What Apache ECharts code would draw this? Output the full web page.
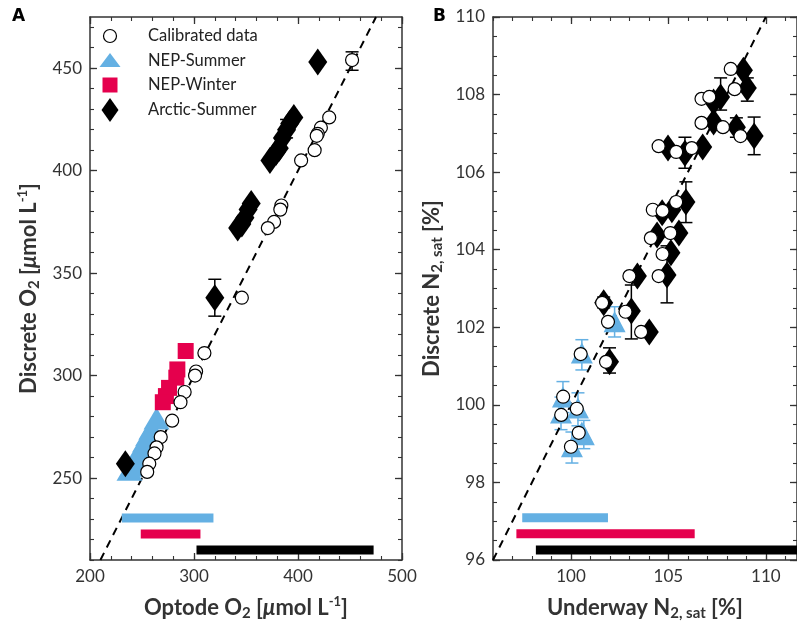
<!DOCTYPE html>
<html>
<head>
<meta charset="utf-8">
<script src="https://cdn.jsdelivr.net/npm/echarts@6/dist/echarts.min.js"></script>
<style>
  html, body { margin: 0; padding: 0; background: #fff; }
  #chart { width: 797px; height: 628px; }
</style>
</head>
<body>
<div id="chart"></div>
<script>
// ---- panel A: oxygen ----
const calA_x = [452, 430, 422, 419, 418, 416, 403, 384, 383, 377, 371, 346, 310, 302, 301, 291, 287, 279, 268, 264, 262, 257, 255]
const calA_y = [454, 426, 421, 418, 417, 410, 405, 383, 381, 375, 372, 338, 311, 302, 300, 292, 287, 278, 270, 265, 262, 257, 253]
const nepSumA_x = [238, 241, 244, 247, 250, 253, 256, 259, 264]
const nepSumA_y = [254, 256, 259, 262, 265, 268, 271, 274, 279]
const nepWinA_x = [292, 284, 283, 276, 273, 270]
const nepWinA_y = [312, 303, 299, 294, 290, 287]
const arcA_x = [419, 396, 392, 389, 385, 382, 379, 373, 355, 352, 349, 346, 342, 320, 234]
const arcA_y = [453, 426, 423, 420, 416, 411, 409, 405, 384, 381, 377, 374, 372, 338, 257]
const errA_x = [320, 389, 452]
const errA_lo = [329, 416, 449]
const errA_hi = [347, 425, 458]
// range bars [start, end, y]
const rangeA_sum = [230.6, 318.7, 230.5]
const rangeA_win = [248.8, 306.2, 222.7]
const rangeA_arc = [302.4, 472.7, 214.9]

// ---- panel B: nitrogen ----
const calB_x = [108.2, 108.4, 106.7, 107.1, 106.7, 107.8, 108.7, 104.5, 105.4, 106.2, 104.2, 104.7, 105.4, 104.1, 105.1, 104.7, 104.5, 103.0, 101.6, 101.9, 102.8, 103.6, 101.8, 100.5, 99.6, 99.5, 100.3, 100.4, 100.0]
const calB_y = [108.66, 108.14, 107.89, 107.94, 107.27, 107.16, 106.93, 106.67, 106.52, 106.62, 105.03, 105.0, 105.23, 104.30, 104.43, 103.89, 103.32, 103.32, 102.63, 102.14, 102.40, 101.88, 101.11, 101.31, 100.21, 99.74, 99.90, 99.28, 98.92]
const nepSumB_x = [102.24, 100.56, 99.59, 99.49, 100.36, 100.56, 100.66, 100.05]
const nepSumB_y = [102.14, 101.34, 100.2, 99.79, 99.92, 99.3, 99.23, 98.92]
const arcB_x = [108.85, 109.05, 107.68, 107.32, 107.32, 108.49, 109.4, 104.98, 105.85, 106.76, 105.9, 104.68, 105.18, 104.42, 105.54, 105.13, 104.93, 103.41, 101.68, 103.1, 104.02, 101.98]
const arcB_y = [108.63, 108.17, 107.94, 107.81, 107.29, 107.16, 106.93, 106.62, 106.49, 106.65, 105.23, 104.95, 105.03, 104.38, 104.43, 103.92, 103.35, 103.32, 102.63, 102.42, 101.88, 101.11]
const errB_x = [107.68, 109.05, 109.4, 105.85, 105.9, 104.93, 103.1, 101.98, 101.68, 108.49]
const errB_lo = [107.6, 107.83, 106.45, 106.1, 104.7, 102.63, 101.7, 100.82, 102.5, 106.9]
const errB_hi = [108.43, 108.43, 107.42, 106.9, 105.75, 104.1, 103.09, 101.47, 102.78, 107.4]
const errNB_x = [102.24, 100.56, 99.59, 99.49, 100.36, 100.05, 100.66]
const errNB_lo = [101.75, 100.9, 99.8, 99.36, 99.46, 98.5, 98.87]
const errNB_hi = [102.53, 101.68, 100.6, 100.2, 100.31, 99.3, 99.6]
const rangeB_sum = [97.5, 101.9, 97.09]
const rangeB_win = [97.2, 106.35, 96.68]
const rangeB_arc = [98.2, 112, 96.26]

// axis ticks
const ticksA_x = [200, 300, 400, 500]
const ticksA_y = [250, 300, 350, 400, 450]
const ticksB_x = [100, 105, 110]
const ticksB_y = [96, 98, 100, 102, 104, 106, 108, 110]

const BLUE = '#64b0e3'
const RED = '#e5004d'
const INK = '#333'
const FONT = 'Lato'

const zip = (xs, ys) => xs.map((x, i) => [x, ys[i]])
const range = (a, b, step) => {
    const out = []
    for (let v = a; v <= b + 1e-9; v += step) out.push(+v.toFixed(4))
    return out
}

const nameRich = {
    b: { fontSize: 22, fontWeight: 'bold', fontFamily: FONT, color: INK },
    sub: { fontSize: 15, fontWeight: 'bold', fontFamily: FONT, color: INK, padding: [12, 0, 0, 0] },
    sup: { fontSize: 13, fontWeight: 'bold', fontFamily: FONT, color: INK, padding: [0, 0, 12, 0] },
    mu: { fontSize: 22, fontStyle: 'italic', fontWeight: 'bold', fontFamily: FONT, color: INK },
}

// four axes per direction: main (line, major ticks, labels), minor ticks, mirrored main, mirrored minor
function axisGroup(dim, grid, min, max, majors, minorStep, name, nameGap, labelFmt) {
    const pos = dim === 'x' ? ['bottom', 'top'] : ['left', 'right']
    const minors = range(Math.ceil(min / minorStep) * minorStep, max, minorStep)
    const base = { type: 'value', gridIndex: grid, min: min, max: max, splitLine: { show: false } }
    const line = { show: true, onZero: false, lineStyle: { color: INK, width: 1.5 } }
    return [
        Object.assign({}, base, {
            position: pos[0],
            axisLine: line,
            axisTick: { show: true, inside: true, length: 7, customValues: majors, lineStyle: { color: INK, width: 1.3 } },
            axisLabel: {
                customValues: majors, color: INK, fontSize: 17, fontFamily: FONT, margin: 8,
                formatter: labelFmt || ((v) => String(v)),
            },
            name: name, nameLocation: 'middle', nameGap: nameGap,
            nameRotate: dim === 'y' ? 90 : 0,
            nameTextStyle: { rich: nameRich },
        }),
        Object.assign({}, base, {
            position: pos[0],
            axisLine: { show: false },
            axisTick: { show: true, inside: true, length: 4, customValues: minors, lineStyle: { color: INK, width: 1.1 } },
            axisLabel: { show: false },
        }),
        Object.assign({}, base, {
            position: pos[1],
            axisLine: line,
            axisTick: { show: true, inside: true, length: 7, customValues: majors, lineStyle: { color: INK, width: 1.3 } },
            axisLabel: { show: false },
        }),
        Object.assign({}, base, {
            position: pos[1],
            axisLine: { show: false },
            axisTick: { show: true, inside: true, length: 4, customValues: minors, lineStyle: { color: INK, width: 1.1 } },
            axisLabel: { show: false },
        }),
    ]
}

const xAxes = [].concat(
    axisGroup('x', 0, 200, 500, ticksA_x, 20, '{b|Optode O}{sub|2}{b| [}{mu|μ}{b|mol L}{sup|-1}{b|]}', 34),
    axisGroup('x', 1, 96, 111.6, ticksB_x, 1, '{b|Underway N}{sub|2, sat}{b| [%]}', 34)
)
const yAxes = [].concat(
    axisGroup('y', 0, 210, 475, ticksA_y, 10, '{b|Discrete O}{sub|2}{b| [}{mu|μ}{b|mol L}{sup|-1}{b|]}', 48),
    axisGroup('y', 1, 96, 110, ticksB_y, 0.5, '{b|Discrete N}{sub|2, sat}{b| [%]}', 48)
)

function errorSeries(xs, lo, hi, color, axisIdx) {
    return {
        type: 'custom',
        xAxisIndex: axisIdx, yAxisIndex: axisIdx,
        silent: true,
        z: 1,
        data: xs.map((x, i) => [x, lo[i], hi[i]]),
        encode: { x: 0, y: [1, 2] },
        renderItem: (params, api) => {
            const p1 = api.coord([api.value(0), api.value(1)])
            const p2 = api.coord([api.value(0), api.value(2)])
            const w = 6.5
            const st = { stroke: color, lineWidth: 1.5 }
            return {
                type: 'group',
                children: [
                    { type: 'line', shape: { x1: p1[0], y1: p1[1], x2: p2[0], y2: p2[1] }, style: st },
                    { type: 'line', shape: { x1: p1[0] - w, y1: p1[1], x2: p1[0] + w, y2: p1[1] }, style: st },
                    { type: 'line', shape: { x1: p2[0] - w, y1: p2[1], x2: p2[0] + w, y2: p2[1] }, style: st },
                ],
            }
        },
    }
}

function rangeBar(r, color, axisIdx) {
    return {
        type: 'line', xAxisIndex: axisIdx, yAxisIndex: axisIdx, silent: true,
        symbol: 'none', z: 1,
        data: [[r[0], r[2]], [r[1], r[2]]],
        lineStyle: { color: color, width: 9, cap: 'butt' },
    }
}

function oneToOne(lo, hi, axisIdx) {
    return {
        type: 'line', xAxisIndex: axisIdx, yAxisIndex: axisIdx, silent: true,
        symbol: 'none', z: 1,
        data: [[lo, lo], [hi, hi]],
        lineStyle: { color: '#000', width: 2, type: [8, 6] },
    }
}

function panelSeries(ai, d) {
    return [
        oneToOne(d.lo, d.hi, ai),
        rangeBar(d.rs, BLUE, ai),
        rangeBar(d.rw, RED, ai),
        rangeBar(d.ra, '#000', ai),
        {
            name: 'NEP-Summer', type: 'scatter', xAxisIndex: ai, yAxisIndex: ai, z: 2,
            symbol: 'triangle', symbolSize: d.triSize,
            itemStyle: { color: BLUE, opacity: 1 },
            data: zip(d.sx, d.sy),
        },
        {
            name: 'NEP-Winter', type: 'scatter', xAxisIndex: ai, yAxisIndex: ai, z: 3,
            symbol: 'rect', symbolSize: 16,
            itemStyle: { color: RED, opacity: 1 },
            data: zip(d.wx, d.wy),
        },
        {
            name: 'Arctic-Summer', type: 'scatter', xAxisIndex: ai, yAxisIndex: ai, z: 4,
            symbol: 'diamond', symbolSize: [19, 27],
            itemStyle: { color: '#000', opacity: 1 },
            data: zip(d.ax, d.ay),
        },
        {
            name: 'Calibrated data', type: 'scatter', xAxisIndex: ai, yAxisIndex: ai, z: 5,
            symbol: 'circle', symbolSize: 13,
            itemStyle: { color: '#fff', borderColor: '#000', borderWidth: 1.2, opacity: 1 },
            data: zip(d.cx, d.cy),
        },
    ]
}

const series = [].concat(
    errorSeries(errA_x, errA_lo, errA_hi, '#000', 0),
    panelSeries(0, {
        lo: 210, hi: 475, rs: rangeA_sum, rw: rangeA_win, ra: rangeA_arc, triSize: [26, 22],
        sx: nepSumA_x, sy: nepSumA_y, wx: nepWinA_x, wy: nepWinA_y,
        ax: arcA_x, ay: arcA_y, cx: calA_x, cy: calA_y,
    }),
    errorSeries(errB_x, errB_lo, errB_hi, '#000', 4),
    errorSeries(errNB_x, errNB_lo, errNB_hi, BLUE, 4),
    panelSeries(4, {
        lo: 96, hi: 110, rs: rangeB_sum, rw: rangeB_win, ra: rangeB_arc, triSize: [22, 21],
        sx: nepSumB_x, sy: nepSumB_y, wx: [], wy: [],
        ax: arcB_x, ay: arcB_y, cx: calB_x, cy: calB_y,
    })
)

// legend drawn by hand so the marker shapes match the plot
const legendItems = ['Calibrated data', 'NEP-Summer', 'NEP-Winter', 'Arctic-Summer']
const legendY = [36, 61, 85, 110]
const legendText = { fontSize: 16.5, fontFamily: FONT, fill: '#222', verticalAlign: 'middle' }
const graphic = [
    { type: 'text', left: 12, top: 8, style: { text: 'A', fontSize: 17, fontWeight: 'bold', fontFamily: 'DejaVu Sans', fill: '#000' } },
    { type: 'text', left: 433, top: 8, style: { text: 'B', fontSize: 17, fontWeight: 'bold', fontFamily: 'DejaVu Sans', fill: '#000' } },
    { type: 'circle', shape: { cx: 110, cy: legendY[0], r: 6.5 }, style: { fill: '#fff', stroke: '#000', lineWidth: 1.2 } },
    { type: 'polygon', shape: { points: [[110, legendY[1] - 8], [99.5, legendY[1] + 6], [120.5, legendY[1] + 6]] }, style: { fill: BLUE } },
    { type: 'rect', shape: { x: 102.5, y: legendY[2] - 7.5, width: 15, height: 15 }, style: { fill: RED } },
    { type: 'polygon', shape: { points: [[110, legendY[3] - 12], [118.5, legendY[3]], [110, legendY[3] + 12], [101.5, legendY[3]]] }, style: { fill: '#000' } },
].concat(legendItems.map((t, i) => ({
    type: 'text', x: 148, y: legendY[i], style: Object.assign({ text: t }, legendText),
})))

const chart = echarts.init(document.getElementById('chart'), null, { renderer: 'canvas' })
chart.setOption({
    animation: false,
    backgroundColor: '#fff',
    textStyle: { fontFamily: FONT },
    grid: [
        { left: 90, top: 17, width: 312, height: 543 },
        { left: 493, top: 17, width: 307, height: 543 },
    ],
    xAxis: xAxes,
    yAxis: yAxes,
    series: series,
    graphic: graphic,
})
window.addEventListener('resize', () => chart.resize())
</script>
</body>
</html>
